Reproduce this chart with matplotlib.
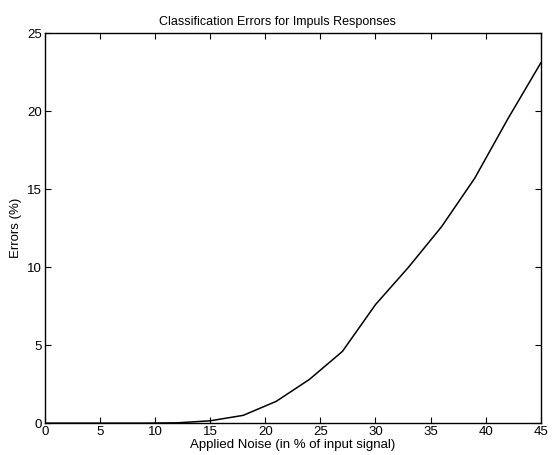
import matplotlib
matplotlib.use('Agg')
import matplotlib.pyplot as plt

# noise level (% of input signal) and classification errors (%)
noise = [0, 3, 6, 9, 12, 15, 18, 21, 24, 27, 30, 33, 36, 39, 42, 45]
errors = [0, 0, 0, 0, 0.02, 0.15, 0.5, 1.4, 2.8, 4.6, 7.6, 10.0, 12.6, 15.7, 19.5, 23.1]

plt.rcParams['font.family'] = ['Liberation Sans', 'DejaVu Sans']
plt.rcParams['font.size'] = 9

fig = plt.figure(figsize=(5.53, 4.55), dpi=100)
ax = fig.add_axes([0.081, 0.070, 0.897, 0.857])
ax.plot(noise, errors, color='black', linewidth=1.1)

ax.set_xlim(0, 45)
ax.set_ylim(0, 25)
ax.set_xticks(range(0, 46, 5))
ax.set_yticks(range(0, 26, 5))
ax.tick_params(direction='in', top=True, right=True, length=4, width=0.8, pad=2, labelsize=9.5)
for s in ax.spines.values():
    s.set_linewidth(1.0)

ax.set_title('Classification Errors for Impuls Responses', fontsize=9, pad=6, x=0.47)
ax.set_xlabel('Applied Noise (in % of input signal)', fontsize=9.5, labelpad=1)
ax.set_ylabel('Errors (%)', fontsize=9.5, labelpad=4)

fig.savefig('out.png', dpi=100)
